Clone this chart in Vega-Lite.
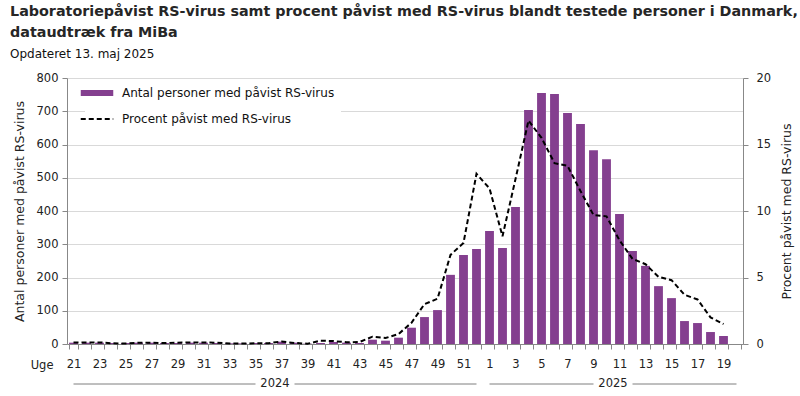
{
  "$schema": "https://vega.github.io/schema/vega-lite/v6.json",
  "background": "white",
  "padding": {"left": 10, "top": 4, "right": 4, "bottom": 2},
  "config": {
    "font": "DejaVu Sans",
    "view": {"stroke": null},
    "axis": {"labelColor": "#222222", "titleColor": "#222222", "domainColor": "#888888", "tickColor": "#888888", "labelFontSize": 11.5, "titleFontSize": 12.5, "titleFontWeight": "normal"}
  },
  "title": {
    "text": ["Laboratoriepåvist RS-virus samt procent påvist med RS-virus blandt testede  personer i Danmark,", "dataudtræk fra MiBa"],
    "subtitle": "Opdateret 13. maj 2025",
    "anchor": "start",
    "dx": -3,
    "font": "DejaVu Sans",
    "fontSize": 14.3,
    "fontWeight": "bold",
    "color": "#262626",
    "lineHeight": 21,
    "subtitleFont": "DejaVu Sans",
    "subtitleFontSize": 12,
    "subtitleColor": "#111111",
    "subtitlePadding": 9,
    "offset": 12
  },
  "spacing": 7,
  "vconcat": [
    {
      "width": 676,
      "height": 266,
      "data": {"values": [
        {"uge": "21", "antal": 4, "pct": 0.12},
        {"uge": "22", "antal": 4, "pct": 0.12},
        {"uge": "23", "antal": 4, "pct": 0.12},
        {"uge": "24", "antal": 3, "pct": 0.05},
        {"uge": "25", "antal": 3, "pct": 0.04},
        {"uge": "26", "antal": 4, "pct": 0.1},
        {"uge": "27", "antal": 4, "pct": 0.1},
        {"uge": "28", "antal": 3, "pct": 0.07},
        {"uge": "29", "antal": 3, "pct": 0.1},
        {"uge": "30", "antal": 4, "pct": 0.12},
        {"uge": "31", "antal": 4, "pct": 0.12},
        {"uge": "32", "antal": 3, "pct": 0.1},
        {"uge": "33", "antal": 2, "pct": 0.03},
        {"uge": "34", "antal": 2, "pct": 0.03},
        {"uge": "35", "antal": 3, "pct": 0.06},
        {"uge": "36", "antal": 3, "pct": 0.06},
        {"uge": "37", "antal": 7, "pct": 0.18},
        {"uge": "38", "antal": 4, "pct": 0.08},
        {"uge": "39", "antal": 1, "pct": 0.02},
        {"uge": "40", "antal": 3, "pct": 0.25},
        {"uge": "41", "antal": 6, "pct": 0.22},
        {"uge": "42", "antal": 4, "pct": 0.13},
        {"uge": "43", "antal": 3, "pct": 0.15},
        {"uge": "44", "antal": 13, "pct": 0.55},
        {"uge": "45", "antal": 10, "pct": 0.45},
        {"uge": "46", "antal": 19, "pct": 0.75},
        {"uge": "47", "antal": 49, "pct": 1.6},
        {"uge": "48", "antal": 81, "pct": 3.0},
        {"uge": "49", "antal": 102, "pct": 3.4},
        {"uge": "50", "antal": 208, "pct": 6.7},
        {"uge": "51", "antal": 268, "pct": 7.6},
        {"uge": "52", "antal": 286, "pct": 12.8},
        {"uge": "1", "antal": 340, "pct": 11.7},
        {"uge": "2", "antal": 289, "pct": 8.1},
        {"uge": "3", "antal": 412, "pct": 12.4},
        {"uge": "4", "antal": 704, "pct": 16.8},
        {"uge": "5", "antal": 755, "pct": 15.5},
        {"uge": "6", "antal": 752, "pct": 13.6},
        {"uge": "7", "antal": 695, "pct": 13.4},
        {"uge": "8", "antal": 662, "pct": 11.5},
        {"uge": "9", "antal": 583, "pct": 9.7},
        {"uge": "10", "antal": 556, "pct": 9.6},
        {"uge": "11", "antal": 391, "pct": 7.8},
        {"uge": "12", "antal": 280, "pct": 6.4},
        {"uge": "13", "antal": 235, "pct": 6.0},
        {"uge": "14", "antal": 174, "pct": 5.05},
        {"uge": "15", "antal": 138, "pct": 4.8},
        {"uge": "16", "antal": 69, "pct": 3.7},
        {"uge": "17", "antal": 63, "pct": 3.35},
        {"uge": "18", "antal": 36, "pct": 2.0},
        {"uge": "19", "antal": 24, "pct": 1.5}
      ]},
      "encoding": {
        "x": {
          "field": "uge", "type": "nominal", "sort": null,
          "scale": {
            "domain": ["21","22","23","24","25","26","27","28","29","30","31","32","33","34","35","36","37","38","39","40","41","42","43","44","45","46","47","48","49","50","51","52","1","2","3","4","5","6","7","8","9","10","11","12","13","14","15","16","17","18","19","20"],
            "paddingInner": 0.32, "paddingOuter": 0.16
          },
          "axis": {
            "title": "Uge", "titleX": -14, "titleY": 21, "titleAlign": "right", "titleBaseline": "middle", "titleFontSize": 11.5,
            "labelAngle": 0, "labelOverlap": false, "labelPadding": 9, "tickSize": 5, "tickBand": "extent",
            "labelExpr": "toNumber(datum.value) % 2 == 1 ? datum.value : ''"
          }
        }
      },
      "layer": [
        {
          "mark": {"type": "bar"},
          "encoding": {
            "y": {"field": "antal", "type": "quantitative", "scale": {"domain": [0, 800]},
              "axis": {"orient": "left", "values": [0,100,200,300,400,500,600,700,800], "grid": true, "gridColor": "#d9d9d9", "tickSize": 5, "labelPadding": 4, "title": "Antal personer med påvist RS-virus", "titlePadding": 10}},
            "color": {"datum": "Antal personer med påvist RS-virus", "type": "nominal",
              "scale": {"domain": ["Antal personer med påvist RS-virus", "Procent påvist med RS-virus"], "range": ["#843f8f", "#000000"]},
              "legend": {
                "title": null, "orient": "none", "legendX": 18, "legendY": 3,
                "fillColor": "white", "padding": 6, "symbolSize": 169, "labelOffset": 19, "rowPadding": 14,
                "labelFontSize": 12, "labelColor": "#111111", "labelLimit": 400,
                "encode": {"symbols": {"update": {
                  "shape": {"signal": "datum.value == 'Antal personer med påvist RS-virus' ? 'M-2.5,-0.45H2.5V0.45H-2.5Z' : 'M-2.5,0H2.5'"},
                  "fill": {"signal": "datum.value == 'Antal personer med påvist RS-virus' ? '#843f8f' : 'transparent'"},
                  "stroke": {"signal": "datum.value == 'Antal personer med påvist RS-virus' ? 'transparent' : '#000000'"},
                  "strokeWidth": {"signal": "datum.value == 'Antal personer med påvist RS-virus' ? 0 : 2"},
                  "strokeDash": {"signal": "datum.value == 'Antal personer med påvist RS-virus' ? [1,0] : [5,3]"},
                  "opacity": {"value": 1}
                }}}
              }}
          }
        },
        {
          "mark": {"type": "line", "strokeDash": [5, 3], "strokeWidth": 2},
          "encoding": {
            "y": {"field": "pct", "type": "quantitative", "scale": {"domain": [0, 20]},
              "axis": {"orient": "right", "values": [0,5,10,15,20], "grid": false, "tickSize": 5, "labelPadding": 8, "title": "Procent påvist med RS-virus", "titleAngle": 270, "titleBaseline": "top", "titlePadding": 10}},
            "color": {"datum": "Procent påvist med RS-virus", "type": "nominal"}
          }
        }
      ],
      "resolve": {"scale": {"y": "independent"}}
    },
    {
      "width": 676,
      "height": 10,
      "layer": [
        {
          "data": {"values": [
            {"aar": "2024", "fra": "21", "til": "35"},
            {"aar": "2024", "fra": "38", "til": "52"},
            {"aar": "2025", "fra": "1", "til": "9"},
            {"aar": "2025", "fra": "12", "til": "20"}
          ]},
          "mark": {"type": "rule", "color": "#7f7f7f", "strokeWidth": 1},
          "encoding": {
            "x": {"field": "fra", "type": "nominal", "bandPosition": 0.5,
              "scale": {"domain": ["21","22","23","24","25","26","27","28","29","30","31","32","33","34","35","36","37","38","39","40","41","42","43","44","45","46","47","48","49","50","51","52","1","2","3","4","5","6","7","8","9","10","11","12","13","14","15","16","17","18","19","20"], "paddingInner": 0.32, "paddingOuter": 0.16},
              "axis": null},
            "x2": {"field": "til", "bandPosition": 0.5}
          }
        },
        {
          "data": {"values": [
            {"aar": "2024", "midt": "36"},
            {"aar": "2025", "midt": "10"}
          ]},
          "mark": {"type": "text", "fontSize": 11.5, "color": "#222222", "baseline": "middle", "align": "center"},
          "encoding": {
            "x": {"field": "midt", "type": "nominal", "bandPosition": 1.235},
            "text": {"field": "aar"}
          }
        }
      ]
    }
  ]
}
